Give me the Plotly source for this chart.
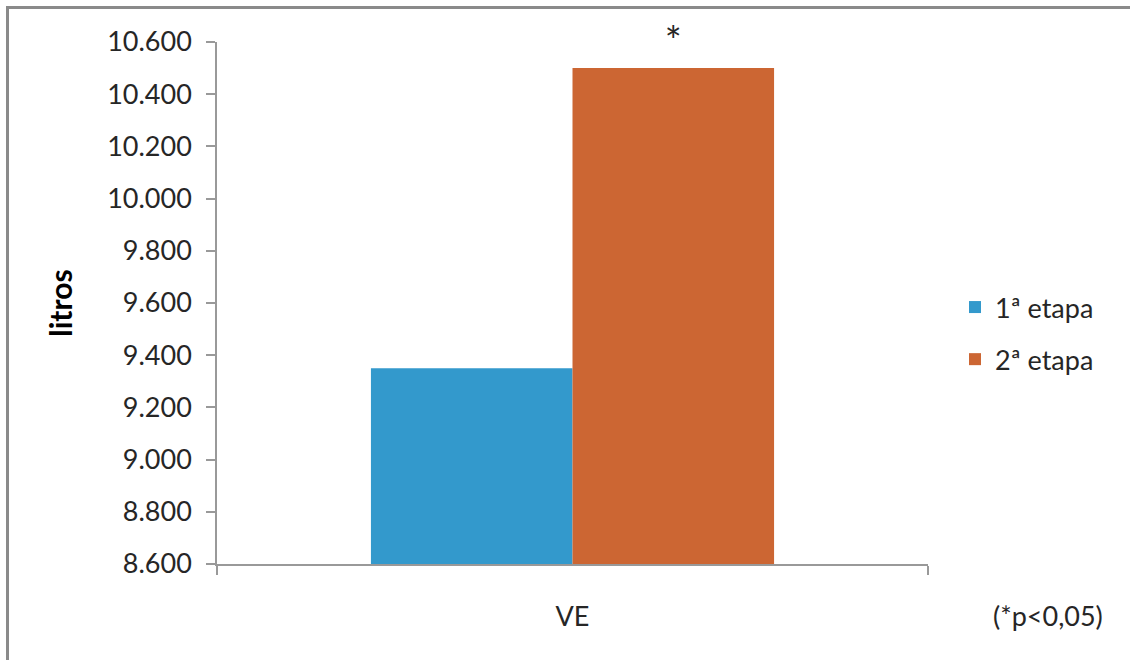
import plotly.graph_objects as go

# Ventilação (VE) por etapa
categories = ["VE"]
etapa_1 = [9350]
etapa_2 = [10500]
series_names = ["1ª etapa", "2ª etapa"]
y_ticks = [8600, 8800, 9000, 9200, 9400, 9600, 9800, 10000, 10200, 10400, 10600]

BLUE = "#3399CC"
ORANGE = "#CC6633"
AXIS = "#999999"
TEXT = "#262626"
FONT = "Lato"
FS = 27

W, H = 1130, 660
M_L, M_R, M_T, M_B = 217, 202, 42, 96
plot_w = W - M_L - M_R
plot_h = H - M_T - M_B


def px_x(px):
    return (px - M_L) / plot_w


def px_y(py):
    return (H - M_B - py) / plot_h


fig = go.Figure()
fig.add_trace(go.Bar(
    x=categories, y=etapa_1, name=series_names[0],
    marker=dict(color=BLUE, line=dict(width=0)),
    legendgroup="a",
))
fig.add_trace(go.Bar(
    x=categories, y=etapa_2, name=series_names[1],
    marker=dict(color=ORANGE, line=dict(width=0)),
    text=["*"], texttemplate="*", textposition="outside",
    textfont=dict(family=FONT, size=40, color=TEXT),
    cliponaxis=False, legendgroup="b",
))

fig.update_layout(
    width=W, height=H,
    margin=dict(l=M_L, r=M_R, t=M_T, b=M_B),
    paper_bgcolor="white", plot_bgcolor="white",
    separators=",.",
    barmode="group", bargap=0.433, bargroupgap=0,
    font=dict(family=FONT, size=FS, color=TEXT),
    showlegend=True,
    legend=dict(
        x=px_x(955), y=px_y(283), xanchor="left", yanchor="top",
        font=dict(family=FONT, size=FS, color=TEXT),
        tracegroupgap=14, bgcolor="rgba(0,0,0,0)",
    ),
    xaxis=dict(
        showline=True, linecolor=AXIS, linewidth=1.5,
        ticks="outside", tickson="boundaries", ticklen=9,
        tickcolor=AXIS, tickwidth=1.5,
        ticklabelstandoff=28,
        tickfont=dict(family=FONT, size=FS, color=TEXT),
        showgrid=False, zeroline=False,
    ),
    yaxis=dict(
        range=[y_ticks[0], y_ticks[-1]], tickvals=y_ticks,
        tickformat=",.0f",
        showline=True, linecolor=AXIS, linewidth=1.5,
        ticks="outside", ticklen=9, tickcolor=AXIS, tickwidth=1.5,
        tickfont=dict(family=FONT, size=FS, color=TEXT),
        ticklabelstandoff=9,
        showgrid=False, zeroline=False,
        title=dict(text="<b>litros</b>", standoff=26,
                   font=dict(family=FONT, size=30, color="#000000")),
        automargin=False,
    ),
    annotations=[
        dict(text="(*p<0,05)", xref="paper", yref="paper",
             x=px_x(1105), y=px_y(615), xanchor="right", yanchor="middle",
             showarrow=False, font=dict(family=FONT, size=FS, color=TEXT)),
    ],
    shapes=[
        # outer frame (left and top edges)
        dict(type="line", xref="paper", yref="paper",
             x0=px_x(7.5), x1=px_x(7.5), y0=px_y(6), y1=px_y(H + 2),
             line=dict(color="#8a8a8a", width=3)),
        dict(type="line", xref="paper", yref="paper",
             x0=px_x(6), x1=px_x(W + 2), y0=px_y(7.5), y1=px_y(7.5),
             line=dict(color="#8a8a8a", width=3)),
    ],
)

fig.write_html("out.html")
